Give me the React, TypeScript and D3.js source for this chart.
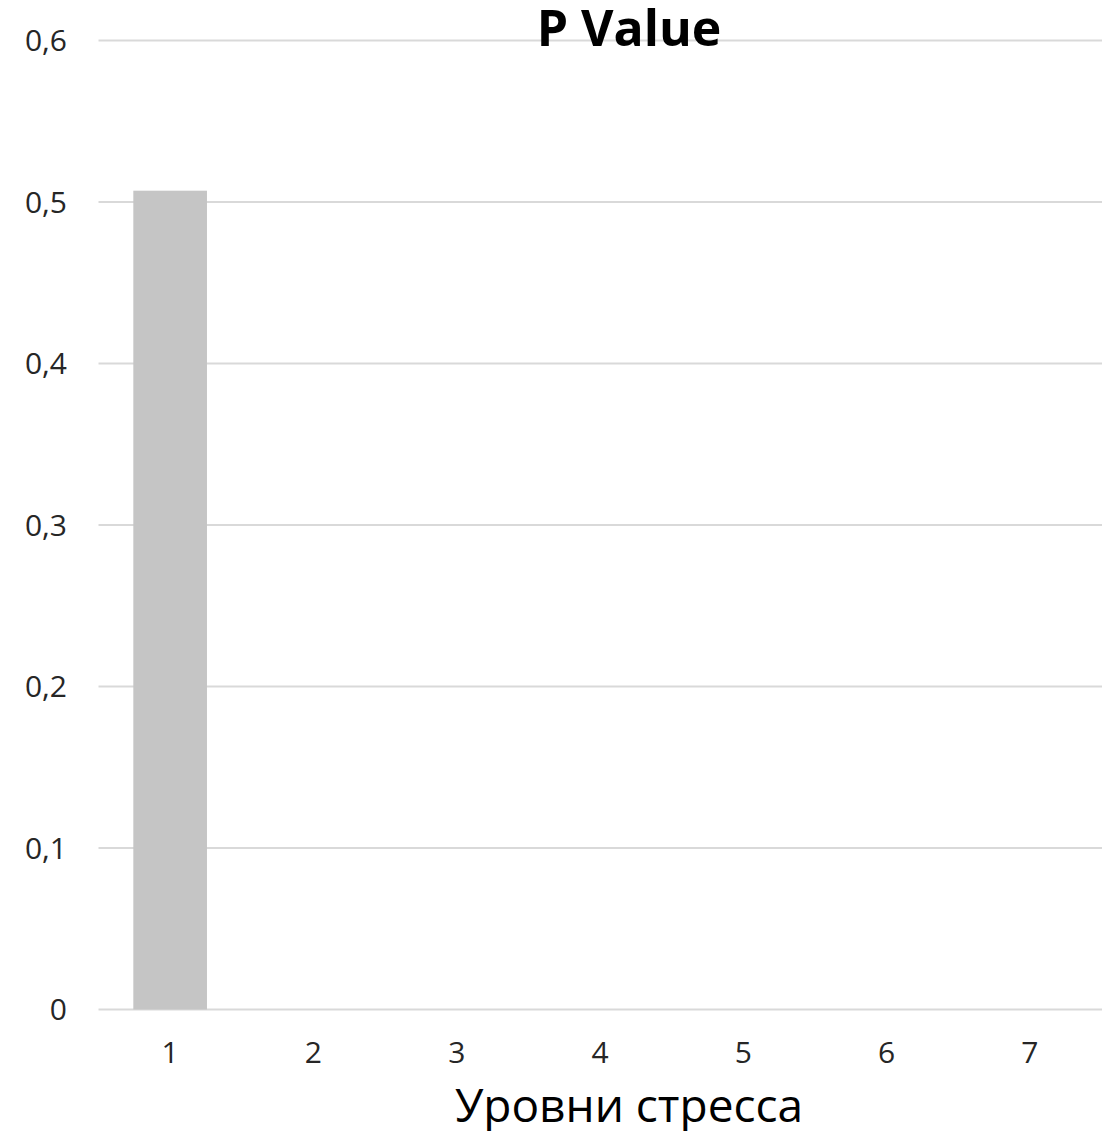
import React from "react";
import * as d3 from "d3";

const categories: string[] = ["1", "2", "3", "4", "5", "6", "7"];
const pValues: number[] = [0.507, 0, 0, 0, 0, 0, 0];
const yTicks: number[] = [0, 0.1, 0.2, 0.3, 0.4, 0.5, 0.6];
const title = "P Value";
const xTitle = "Уровни стресса";

const W = 1102;
const H = 1131;
const FONT = "'Open Sans', 'Noto Sans', sans-serif";

export default function App() {
  const x = d3
    .scaleBand<string>()
    .domain(categories)
    .range([98.5, 1101.5])
    .paddingInner(0.486)
    .paddingOuter(0.243);
  const y = d3.scaleLinear().domain([0, 0.6]).range([1009.5, 40.5]);
  const fmt = (v: number) => (v === 0 ? "0" : d3.format(".1f")(v).replace(".", ","));

  return (
    <svg
      width={W}
      height={H}
      style={{ position: "absolute", left: 0, top: 0, background: "#fff" }}
      fontFamily={FONT}
    >
      {yTicks.map((t) => (
        <g key={t}>
          <line x1={98.5} x2={W} y1={y(t)} y2={y(t)} stroke="#d9d9d9" strokeWidth={2} />
          <text x={67} y={y(t)} dy="0.36em" textAnchor="end" fontSize={30} fill="#262626">
            {fmt(t)}
          </text>
        </g>
      ))}
      {categories.map((c, i) => (
        <rect
          key={c}
          x={x(c)}
          width={x.bandwidth()}
          y={y(pValues[i])}
          height={y(0) - y(pValues[i])}
          fill="#c5c5c5"
        />
      ))}
      {categories.map((c) => (
        <text
          key={"l" + c}
          x={(x(c) as number) + x.bandwidth() / 2}
          y={1063}
          textAnchor="middle"
          fontSize={30}
          fill="#262626"
        >
          {c}
        </text>
      ))}
      <text x={629} y={46} textAnchor="middle" fontSize={50} fontWeight="bold" fill="#000">
        {title}
      </text>
      <text x={629} y={1122} textAnchor="middle" fontSize={46} fill="#000">
        {xTitle}
      </text>
    </svg>
  );
}
